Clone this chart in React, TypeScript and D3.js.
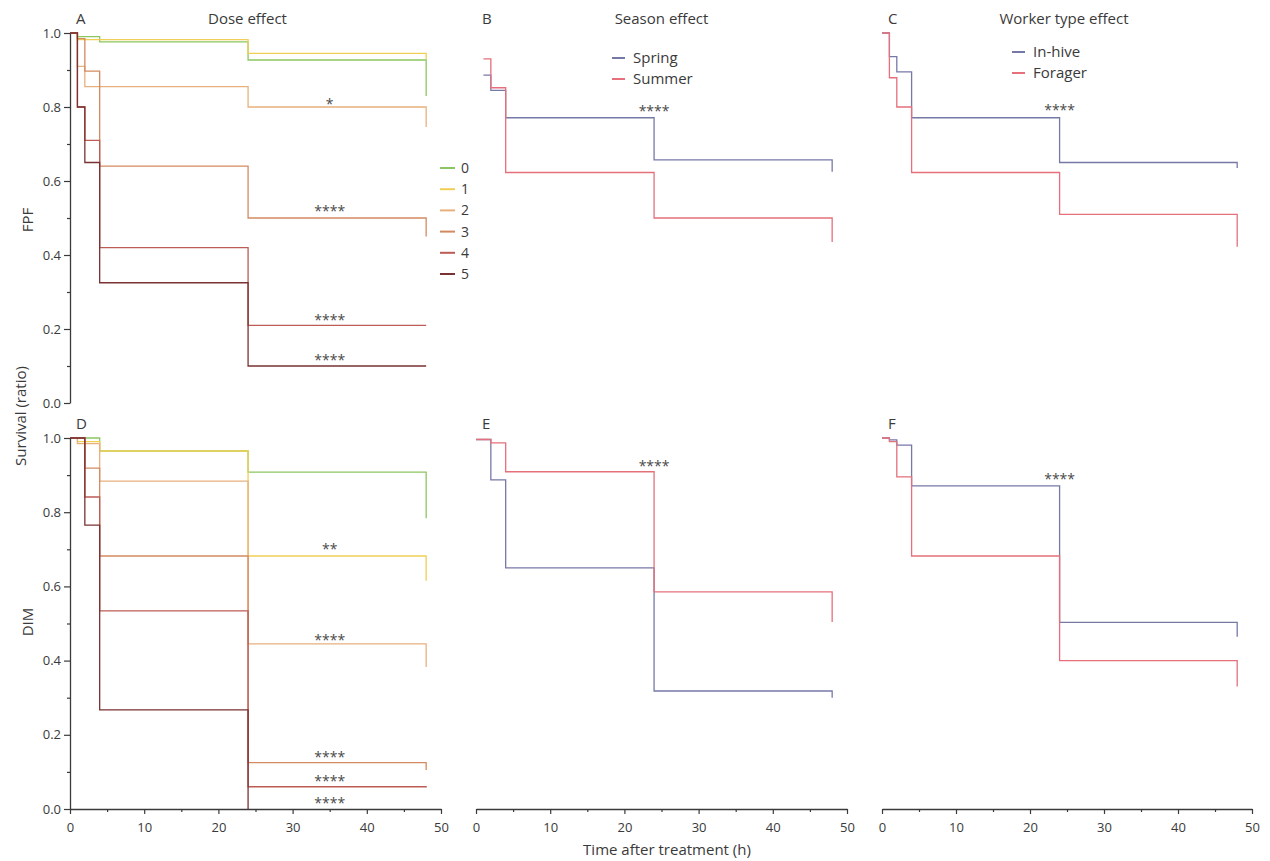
import * as d3 from "d3";
import React, { useEffect, useRef } from "react";

type Pt = [number, number];

interface Mark {
  t: number
  v: number
  label: string
}

const doseGroups = ["0", "1", "2", "3", "4", "5"];
const doseColors = ["#8cc661", "#efcf55", "#e8b07e", "#d48a60", "#bc5c55", "#7a3232"];
const seasonGroups = ["Spring", "Summer"];
const workerGroups = ["In-hive", "Forager"];
const pairColors = ["#7679a6", "#e5707b"];

const yTicks = [0, 0.2, 0.4, 0.6, 0.8, 1.0];
const yMinor = [0.1, 0.3, 0.5, 0.7, 0.9];
const xTicks = [0, 10, 20, 30, 40, 50];
const xMinor = [5, 15, 25, 35, 45];

// survival curves: [hours, ratio]
const fpfDose: Pt[][] = [
  [[0, 1], [1, 0.99], [4, 0.976], [24, 0.927], [48, 0.83]],
  [[0, 1], [1, 0.982], [24, 0.945], [48, 0.93]],
  [[0, 1], [1, 0.91], [2, 0.855], [24, 0.8], [48, 0.746]],
  [[0, 1], [1, 0.985], [2, 0.897], [4, 0.64], [24, 0.5], [48, 0.45]],
  [[0, 1], [1, 0.8], [2, 0.71], [4, 0.42], [24, 0.21], [48, 0.21]],
  [[0, 1], [1, 0.8], [2, 0.65], [4, 0.325], [24, 0.1], [48, 0.1]],
];
const dimDose: Pt[][] = [
  [[0, 1], [4, 0.965], [24, 0.908], [48, 0.784]],
  [[0, 1], [1, 0.99], [4, 0.965], [24, 0.682], [48, 0.615]],
  [[0, 1], [1, 0.985], [4, 0.884], [24, 0.445], [48, 0.383]],
  [[0, 1], [2, 0.919], [4, 0.682], [24, 0.125], [48, 0.105]],
  [[0, 1], [2, 0.841], [4, 0.534], [24, 0.06], [48, 0.058]],
  [[0, 1], [2, 0.765], [4, 0.267], [24, 0]],
];
const fpfSeason: Pt[][] = [
  [[1, 0.886], [2, 0.845], [4, 0.771], [24, 0.657], [48, 0.625]],
  [[1, 0.93], [2, 0.852], [4, 0.623], [24, 0.5], [48, 0.435]],
];
const dimSeason: Pt[][] = [
  [[0, 0.996], [2, 0.887], [4, 0.65], [24, 0.318], [48, 0.3]],
  [[0, 0.996], [2, 0.987], [4, 0.909], [24, 0.585], [48, 0.504]],
];
const fpfWorker: Pt[][] = [
  [[0, 1], [1, 0.936], [2, 0.895], [4, 0.771], [24, 0.65], [48, 0.635]],
  [[0, 1], [1, 0.879], [2, 0.8], [4, 0.623], [24, 0.51], [48, 0.422]],
];
const dimWorker: Pt[][] = [
  [[0, 1], [1, 0.995], [2, 0.981], [4, 0.871], [24, 0.503], [48, 0.464]],
  [[0, 1], [1, 0.99], [2, 0.895], [4, 0.682], [24, 0.4], [48, 0.33]],
];

// significance stars
const fpfDoseMarks: Mark[] = [
  { t: 35, v: 0.819, label: "*" },
  { t: 35, v: 0.53, label: "****" },
  { t: 35, v: 0.235, label: "****" },
  { t: 35, v: 0.127, label: "****" },
];
const dimDoseMarks: Mark[] = [
  { t: 35, v: 0.712, label: "**" },
  { t: 35, v: 0.466, label: "****" },
  { t: 35, v: 0.151, label: "****" },
  { t: 35, v: 0.086, label: "****" },
  { t: 35, v: 0.027, label: "****" },
];
const fpfSeasonMarks: Mark[] = [{ t: 24, v: 0.8, label: "****" }];
const dimSeasonMarks: Mark[] = [{ t: 24, v: 0.935, label: "****" }];
const fpfWorkerMarks: Mark[] = [{ t: 24, v: 0.803, label: "****" }];
const dimWorkerMarks: Mark[] = [{ t: 24, v: 0.9, label: "****" }];

const App: React.FC = () => {
  const ref = useRef<SVGSVGElement | null>(null);

  useEffect(() => {
    const svg = d3.select(ref.current);
    svg.selectAll("*").remove();
    const font = "'Open Sans', sans-serif";
    const ink = "#3a3a3a";

    const cols = [[70, 441], [476, 847], [882, 1252]];
    const rows = [[403, 33], [809, 438]];
    const titleShift = [-8, 0, -3];

    const panels = [
      { col: 0, row: 0, letter: "A", title: "Dose effect", series: fpfDose, colors: doseColors, marks: fpfDoseMarks },
      { col: 1, row: 0, letter: "B", title: "Season effect", series: fpfSeason, colors: pairColors, marks: fpfSeasonMarks },
      { col: 2, row: 0, letter: "C", title: "Worker type effect", series: fpfWorker, colors: pairColors, marks: fpfWorkerMarks },
      { col: 0, row: 1, letter: "D", title: "", series: dimDose, colors: doseColors, marks: dimDoseMarks },
      { col: 1, row: 1, letter: "E", title: "", series: dimSeason, colors: pairColors, marks: dimSeasonMarks },
      { col: 2, row: 1, letter: "F", title: "", series: dimWorker, colors: pairColors, marks: dimWorkerMarks },
    ];

    const styleAxis = (g: d3.Selection<SVGGElement, unknown, null, undefined>) => {
      g.select(".domain").attr("stroke", ink).attr("stroke-width", 1.3);
      g.selectAll(".tick line").attr("stroke", ink).attr("stroke-width", 1.2);
      g.selectAll(".tick text").attr("fill", ink).style("font-size", "13px").style("font-family", font);
    };

    panels.forEach((p) => {
      const x = d3.scaleLinear().domain([0, 50]).range(cols[p.col]);
      const y = d3.scaleLinear().domain([0, 1]).range(rows[p.row]);
      const g = svg.append("g");

      const line = d3.line<Pt>()
        .x((d) => x(d[0]))
        .y((d) => y(d[1]))
        .curve(d3.curveStepAfter);

      p.series.forEach((s, i) => {
        g.append("path")
          .attr("d", line(s) as string)
          .attr("fill", "none")
          .attr("stroke", p.colors[i])
          .attr("stroke-width", 1.3);
      });

      g.selectAll(".mark")
        .data(p.marks)
        .enter()
        .append("text")
        .attr("x", (d) => x(d.t))
        .attr("y", (d) => y(d.v))
        .attr("dy", "0.62em")
        .attr("text-anchor", "middle")
        .attr("fill", "#4a4a4a")
        .style("font-size", "14px")
        .style("font-family", font)
        .text((d) => d.label);

      if (p.col === 0) {
        const ya = g.append("g")
          .attr("transform", `translate(${cols[0][0]},0)`)
          .call(d3.axisLeft(y).tickValues(yTicks).tickFormat(d3.format(".1f")).tickSize(6).tickSizeOuter(0).tickPadding(3));
        styleAxis(ya);
        const ym = g.append("g")
          .attr("transform", `translate(${cols[0][0]},0)`)
          .call(d3.axisLeft(y).tickValues(yMinor).tickFormat(() => "").tickSize(3).tickSizeOuter(0));
        styleAxis(ym);
        ym.select(".domain").remove();
      }
      if (p.row === 1) {
        const xa = g.append("g")
          .attr("transform", `translate(0,${rows[1][0]})`)
          .call(d3.axisBottom(x).tickValues(xTicks).tickSize(5).tickSizeOuter(0).tickPadding(9));
        styleAxis(xa);
        const xm = g.append("g")
          .attr("transform", `translate(0,${rows[1][0]})`)
          .call(d3.axisBottom(x).tickValues(xMinor).tickFormat(() => "").tickSize(3).tickSizeOuter(0));
        styleAxis(xm);
        xm.select(".domain").remove();
      }

      const top = rows[p.row][1];
      g.append("text")
        .attr("x", cols[p.col][0] + 6)
        .attr("y", top - 9)
        .attr("fill", ink)
        .style("font-size", "15px")
        .style("font-family", font)
        .text(p.letter);
      if (p.title) {
        g.append("text")
          .attr("x", (cols[p.col][0] + cols[p.col][1]) / 2 + titleShift[p.col])
          .attr("y", top - 9)
          .attr("text-anchor", "middle")
          .attr("fill", ink)
          .style("font-size", "15px")
          .style("font-family", font)
          .text(p.title);
      }
    });

    // dose legend
    const dl = svg.append("g").attr("transform", "translate(440,168)");
    doseGroups.forEach((name, i) => {
      dl.append("line")
        .attr("x1", 0).attr("x2", 15)
        .attr("y1", i * 21.2).attr("y2", i * 21.2)
        .attr("stroke", doseColors[i]).attr("stroke-width", 2);
      dl.append("text")
        .attr("x", 21).attr("y", i * 21.2)
        .attr("dy", "0.35em")
        .attr("fill", ink)
        .style("font-size", "14px")
        .style("font-family", font)
        .text(name);
    });

    const pairLegend = (names: string[], tx: number, ty: number) => {
      const lg = svg.append("g").attr("transform", `translate(${tx},${ty})`);
      names.forEach((name, i) => {
        lg.append("line")
          .attr("x1", 0).attr("x2", 13)
          .attr("y1", i * 21).attr("y2", i * 21)
          .attr("stroke", pairColors[i]).attr("stroke-width", 2);
        lg.append("text")
          .attr("x", 21).attr("y", i * 21)
          .attr("dy", "0.35em")
          .attr("fill", ink)
          .style("font-size", "15px")
          .style("font-family", font)
          .text(name);
      });
    };
    pairLegend(seasonGroups, 612, 58);
    pairLegend(workerGroups, 1012, 52);

    // axis titles
    const rotLabel = (text: string, cx: number, cy: number) => {
      svg.append("text")
        .attr("transform", `translate(${cx},${cy}) rotate(-90)`)
        .attr("text-anchor", "middle")
        .attr("fill", ink)
        .style("font-size", "15px")
        .style("font-family", font)
        .text(text);
    };
    rotLabel("FPF", 33, 220);
    rotLabel("DIM", 33, 622);
    rotLabel("Survival (ratio)", 26, 416);

    svg.append("text")
      .attr("x", 667)
      .attr("y", 855)
      .attr("text-anchor", "middle")
      .attr("fill", ink)
      .style("font-size", "15px")
      .style("font-family", font)
      .text("Time after treatment (h)");

    return () => {
      svg.selectAll("*").remove();
    };
  }, []);

  return (
    <svg
      ref={ref}
      width={1270}
      height={861}
      style={{ position: "absolute", left: 0, top: 0, background: "#fff" }}
    />
  );
};

export default App;
